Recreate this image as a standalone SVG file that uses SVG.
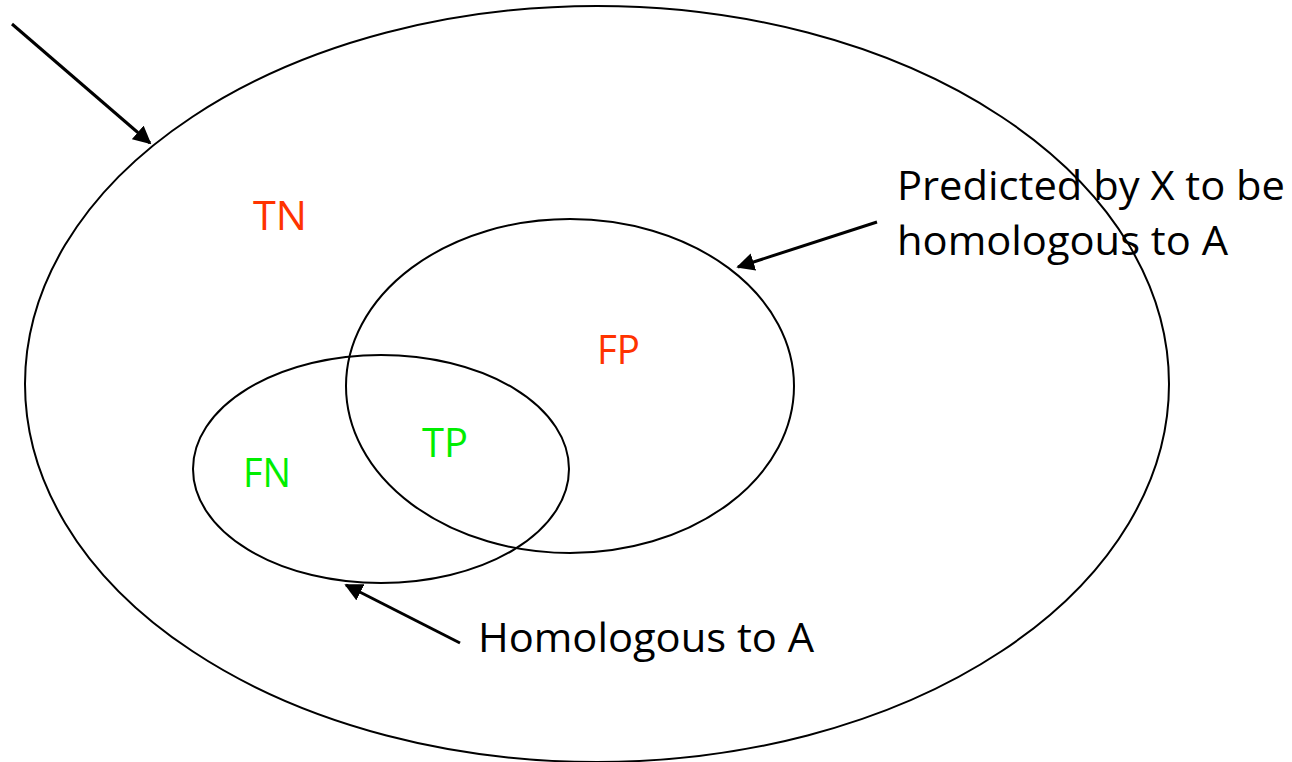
<svg xmlns="http://www.w3.org/2000/svg" width="1292" height="762" viewBox="0 0 1292 762">
<style>
.ring{fill:none;stroke:#000;stroke-width:2}
.conn{stroke:#000;stroke-width:3;fill:none}
.lbl{font-family:"Open Sans","Liberation Sans",sans-serif;font-size:41px}
.red{fill:#FF3300}
.green{fill:#00EE00}
.txt{font-family:"Open Sans","Liberation Sans",sans-serif;font-size:40px;fill:#000}
</style>
<defs>
<marker id="ah" viewBox="0 0 10 10" refX="9" refY="5" markerWidth="6" markerHeight="6" orient="auto" markerUnits="strokeWidth">
<path d="M0,0 L10,5 L0,10 z" fill="#000"/>
</marker>
</defs>
<rect width="1292" height="762" fill="#fff"/>
<g id="universe">
<ellipse class="ring" cx="597" cy="384" rx="572" ry="378"/>
<text class="lbl red" x="253" y="230" textLength="54" lengthAdjust="spacingAndGlyphs">TN</text>
</g>
<g id="predicted">
<ellipse class="ring" cx="570" cy="386" rx="224" ry="167"/>
<text class="lbl red" x="597" y="364" textLength="43" lengthAdjust="spacingAndGlyphs">FP</text>
</g>
<g id="homologous">
<ellipse class="ring" cx="381" cy="469" rx="188" ry="114"/>
<text class="lbl green" x="243" y="487" textLength="48" lengthAdjust="spacingAndGlyphs">FN</text>
</g>
<g id="tp">
<text class="lbl green" x="422" y="457" textLength="46" lengthAdjust="spacingAndGlyphs">TP</text>
</g>
<g id="label-predicted">
<text class="txt" x="897" y="200" textLength="388" lengthAdjust="spacingAndGlyphs">Predicted by X to be</text>
<text class="txt" x="897" y="255" textLength="331" lengthAdjust="spacingAndGlyphs">homologous to A</text>
</g>
<g id="label-homologous">
<text class="txt" x="478" y="652" textLength="336" lengthAdjust="spacingAndGlyphs">Homologous to A</text>
</g>
<g id="connectors">
<line class="conn" x1="12" y1="24" x2="150" y2="143" marker-end="url(#ah)"/>
<line class="conn" x1="877" y1="222" x2="738" y2="267" marker-end="url(#ah)"/>
<line class="conn" x1="460" y1="643" x2="346" y2="585" marker-end="url(#ah)"/>
</g>
</svg>
